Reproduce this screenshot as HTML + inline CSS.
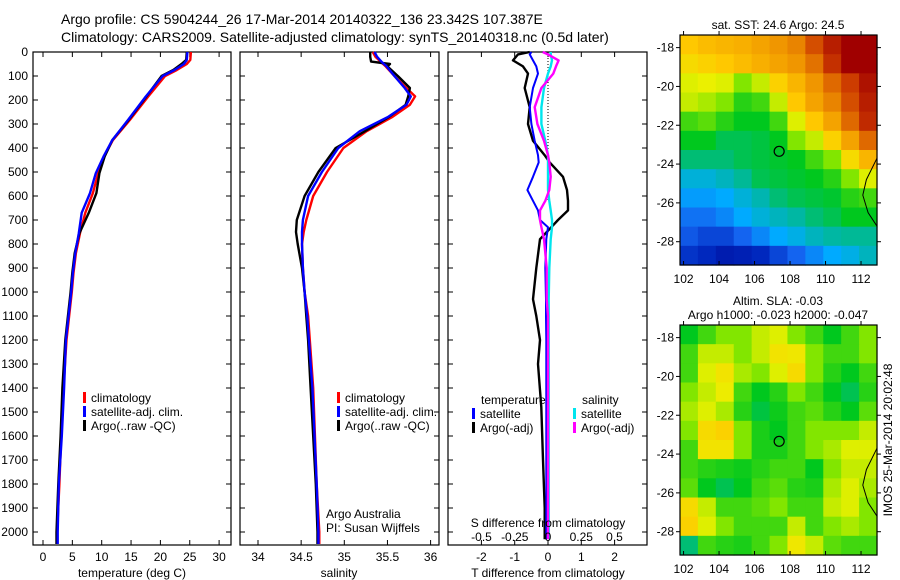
<!DOCTYPE html>
<html><head><meta charset="utf-8"><style>
html,body{margin:0;padding:0;background:#fff}
svg{display:block;font-family:"Liberation Sans",sans-serif}
text{font-size:12px;fill:#000}
</style></head><body>
<svg id="fig" width="900" height="580" viewBox="0 0 900 580">
<text x="61" y="24" style="font-size:14px">Argo profile: CS 5904244_26 17-Mar-2014 20140322_136 23.342S 107.387E</text>
<text x="61" y="42" style="font-size:14px">Climatology: CARS2009. Satellite-adjusted climatology: synTS_20140318.nc (0.5d later)</text>
<g id="g"></g>
</svg>
<script>
// ---------- data ----------
const depthTicks=[0,100,200,300,400,500,600,700,800,900,1000,1100,1200,1300,1400,1500,1600,1700,1800,1900,2000];
const tempTicks=[0,5,10,15,20,25,30];
const salTicks=[34,34.5,35,35.5,36];
const tdTicks=[-2,-1,0,1,2];
const sdTicks=[-0.5,-0.25,0,0.25,0.5];
const tdTickLabels=["-2","-1","0","1","2"];
const sdTickLabels=["-0.5","-0.25","0","0.25","0.5"];

const tClimDepth=[0,33,50,75,100,186,283,367,436,505,588,670,755,838,920,1000,1200,1400,1600,1800,2000,2050];
const tClim=[25.2,25.1,24.5,22.8,20.8,17.9,14.8,11.9,10.4,9.4,8.5,7.2,6.3,5.6,5.2,4.9,4.0,3.5,3.1,2.8,2.4,2.4];
const tSat=[24.6,24.5,24.0,22.4,20.4,17.5,14.5,11.8,10.3,9.0,8.0,6.6,6.1,5.5,5.1,4.8,3.9,3.6,3.2,2.7,2.5,2.5];
const tArgo=[24.5,24.4,23.6,22.2,20.2,17.6,14.6,11.8,10.5,9.6,9.1,7.8,6.2,5.4,5.0,4.7,3.8,3.3,3.0,2.6,2.3,2.3];

const sDepth=[0,20,40,50,60,100,150,185,220,270,330,400,500,600,700,750,800,900,1000,1100,1200,1400,1800,2000,2050];
const sClim=[35.33,35.36,35.42,35.45,35.48,35.58,35.72,35.82,35.76,35.56,35.26,34.99,34.80,34.64,34.56,34.53,34.51,34.52,34.54,34.58,34.60,34.64,34.68,34.71,34.71];
const sSat=[35.35,35.38,35.43,35.46,35.49,35.58,35.70,35.77,35.72,35.51,35.18,34.93,34.74,34.58,34.52,34.51,34.51,34.52,34.54,34.57,34.59,34.63,34.68,34.70,34.70];
const sArgo=[35.30,35.30,35.31,35.53,35.50,35.62,35.76,35.74,35.71,35.52,35.24,34.90,34.70,34.54,34.45,34.44,34.46,34.51,34.54,34.56,34.58,34.61,34.67,34.69,34.69];

const dDepth=[0,10,35,60,90,150,230,300,370,430,460,520,575,620,660,700,730,780,900,1030,1100,1200,1300,1480,1700,1900,2030];
const dTArgo=[-0.55,-0.9,-1.05,-0.75,-0.6,-0.7,-0.55,-0.6,-0.45,-0.1,0.05,0.45,0.57,0.6,0.6,0.3,0.1,-0.24,-0.35,-0.45,-0.35,-0.24,-0.3,-0.2,-0.15,-0.1,-0.1];
const dTSat=[-0.5,-0.55,-0.45,-0.35,-0.3,-0.45,-0.55,-0.5,-0.4,-0.3,-0.28,-0.45,-0.62,-0.45,-0.3,-0.24,0,-0.05,-0.08,-0.06,-0.06,-0.05,-0.05,-0.05,-0.05,-0.05,-0.05];
const dSSat=[0.02,0.02,0.03,0.02,0.0,-0.03,-0.05,-0.05,-0.02,0,0,0.0,0.0,0.01,0.02,0.03,0.03,0.02,0.01,0.005,0.005,0.005,0.005,0.005,0.005,0.005,0.005];
const dSArgo=[-0.04,0.0,0.08,0.06,0.04,-0.05,-0.1,-0.08,-0.03,0,0.01,0.02,0.01,-0.02,-0.06,-0.06,-0.05,-0.03,-0.01,-0.01,0,0,0,0,0,0,0];

const mapLonTicks=[102,104,106,108,110,112];
const mapLatTicks=[-18,-20,-22,-24,-26,-28];
const sstGrid=[
[0.72,0.74,0.75,0.76,0.78,0.80,0.82,0.88,0.95,1,1],
[0.68,0.70,0.72,0.74,0.76,0.78,0.80,0.84,0.92,1,1],
[0.62,0.63,0.62,0.55,0.60,0.70,0.75,0.80,0.85,0.90,0.97],
[0.60,0.58,0.55,0.48,0.50,0.60,0.72,0.78,0.82,0.88,0.95],
[0.50,0.52,0.48,0.45,0.45,0.50,0.62,0.72,0.78,0.85,0.93],
[0.45,0.45,0.42,0.42,0.43,0.45,0.55,0.60,0.70,0.78,0.85],
[0.40,0.40,0.40,0.42,0.43,0.44,0.45,0.50,0.55,0.68,0.75],
[0.33,0.33,0.35,0.38,0.42,0.43,0.44,0.45,0.48,0.55,0.62],
[0.28,0.28,0.30,0.33,0.36,0.40,0.42,0.43,0.44,0.48,0.50],
[0.22,0.22,0.25,0.30,0.33,0.35,0.37,0.40,0.42,0.45,0.45],
[0.18,0.15,0.15,0.20,0.25,0.30,0.32,0.35,0.37,0.38,0.38],
[0.12,0.10,0.07,0.08,0.10,0.15,0.20,0.25,0.30,0.32,0.35]];
const slaGrid=[
[0.45,0.50,0.55,0.55,0.60,0.62,0.55,0.50,0.45,0.50,0.55],
[0.50,0.60,0.60,0.55,0.60,0.66,0.65,0.55,0.50,0.50,0.55],
[0.50,0.62,0.66,0.58,0.55,0.62,0.68,0.55,0.48,0.45,0.50],
[0.55,0.60,0.64,0.50,0.45,0.48,0.55,0.50,0.45,0.42,0.48],
[0.58,0.62,0.58,0.48,0.43,0.46,0.50,0.52,0.48,0.45,0.52],
[0.55,0.68,0.70,0.55,0.47,0.45,0.50,0.55,0.55,0.55,0.60],
[0.50,0.66,0.66,0.55,0.47,0.47,0.50,0.55,0.58,0.62,0.62],
[0.50,0.48,0.47,0.46,0.48,0.50,0.50,0.45,0.55,0.60,0.60],
[0.52,0.45,0.42,0.45,0.50,0.52,0.48,0.47,0.58,0.62,0.58],
[0.68,0.60,0.50,0.50,0.52,0.55,0.50,0.50,0.60,0.62,0.55],
[0.70,0.62,0.55,0.50,0.50,0.50,0.60,0.50,0.55,0.58,0.55],
[0.40,0.50,0.48,0.47,0.50,0.55,0.65,0.60,0.52,0.50,0.50]];
const floatLon=107.387, floatLat=-23.342;
const coastLon=[112.9,112.3,112.1,112.4,112.9];
const coastLat=[-23.7,-24.8,-25.6,-26.5,-27.2];

// ---------- helpers ----------
const NS="http://www.w3.org/2000/svg";
const G=document.getElementById('g');
function el(tag,attrs,parent){const e=document.createElementNS(NS,tag);for(const k in attrs)e.setAttribute(k,attrs[k]);(parent||G).appendChild(e);return e;}
function txt(x,y,s,anchor,parent){const t=el('text',{x:x,y:y,'text-anchor':anchor||'start'},parent);t.textContent=s;return t;}
const Y0=52, PY=0.24, YB=545;
const yD=d=>Y0+d*PY;
const xT=v=>43+v*5.87;
const xS=v=>258+(v-34)*86.3;
const xTD=v=>548+v*33.3;
const xSD=v=>548+v*133;

function frame(x0,x1,name){
  const r=el('rect',{x:x0,y:Y0,width:x1-x0,height:YB-Y0,fill:'none',stroke:'#000','stroke-width':1.2});
  
  
}
function series(xs,ds,fx,color,name,w){
  const pts=xs.map((v,i)=>fx(v).toFixed(1)+','+yD(ds[i]).toFixed(1)).join(' ');
  const p=el('polyline',{points:pts,fill:'none',stroke:color,'stroke-width':w||2.4,'stroke-linejoin':'round'});
  
  
}
function xticks(x0,x1,ticks,labels,fx,ly,name){
  ticks.forEach((t,i)=>{const x=fx(t);
    el('line',{x1:x,y1:YB,x2:x,y2:YB-5,stroke:'#000'});
    el('line',{x1:x,y1:Y0,x2:x,y2:Y0+5,stroke:'#000'});
    const tl=txt(x,ly,labels[i],'middle');
    
    
  });
}
function yticks(x0,x1,lab){
  depthTicks.forEach(d=>{const y=yD(d);
    el('line',{x1:x0,y1:y,x2:x0+5,y2:y,stroke:'#000'});
    el('line',{x1:x1,y1:y,x2:x1-5,y2:y,stroke:'#000'});
    if(lab){const t=txt(28,y+4,String(d),'end');
      
      }
  });
}
function legendBar(x,y,color,label){
  el('rect',{x:x,y:y-10,width:3,height:11,fill:color});
  const t=txt(x+8,y,label);
  
  
}

// ---------- panel 1: temperature ----------
frame(33,231,'temperature-panel');
yticks(33,231,true);
xticks(33,231,tempTicks,tempTicks.map(String),xT,561,'temperature');
series(tClim,tClimDepth,xT,'#ff0000','temp-climatology-line');
series(tArgo,tClimDepth,xT,'#000000','temp-argo-line');
series(tSat,tClimDepth,xT,'#0000ff','temp-satellite-line');
let t=txt(132,577,'temperature (deg C)','middle');


legendBar(83,402,'#ff0000','climatology');
legendBar(83,416,'#0000ff','satellite-adj. clim.');
legendBar(83,430,'#000000','Argo(..raw -QC)');

// ---------- panel 2: salinity ----------
frame(240,439,'salinity-panel');
yticks(240,439,false);
xticks(240,439,salTicks,salTicks.map(String),xS,561,'salinity');
series(sClim,sDepth,xS,'#ff0000','sal-climatology-line');
series(sArgo,sDepth,xS,'#000000','sal-argo-line');
series(sSat,sDepth,xS,'#0000ff','sal-satellite-line');
t=txt(339,577,'salinity','middle');


legendBar(337,402,'#ff0000','climatology');
legendBar(337,416,'#0000ff','satellite-adj. clim.');
legendBar(337,430,'#000000','Argo(..raw -QC)');
t=txt(326,518,'Argo Australia');


t=txt(326,532,'PI: Susan Wijffels');



// ---------- panel 3: differences ----------
frame(448,647,'difference-panel');
yticks(448,647,false);
xticks(448,647,tdTicks,tdTickLabels,xTD,561,'t-difference');
el('line',{x1:548,y1:Y0,x2:548,y2:200,stroke:'#000','stroke-dasharray':'1,2'});
series(dTArgo,dDepth,xTD,'#000000','tdiff-argo-line');
series(dTSat,dDepth,xTD,'#0000ff','tdiff-satellite-line',2);
series(dSSat,dDepth,xSD,'#00e5ee','sdiff-satellite-line',2.4);
series(dSArgo,dDepth,xSD,'#ff00ff','sdiff-argo-line',2.4);
sdTicks.forEach((v,i)=>{const l=txt(xSD(v),541,sdTickLabels[i],'middle');
  
  });
t=txt(548,527,'S difference from climatology','middle');


t=txt(548,577,'T difference from climatology','middle');


t=txt(481,404,'temperature');


t=txt(582,404,'salinity');


legendBar(472,418,'#0000ff','satellite');
legendBar(472,432,'#000000','Argo(-adj)');
legendBar(573,418,'#00e5ee','satellite');
legendBar(573,432,'#ff00ff','Argo(-adj)');

// ---------- maps ----------
const cmStops=[[0,[0,0,140]],[0.1,[0,40,190]],[0.2,[20,100,240]],[0.3,[0,170,255]],[0.38,[0,185,150]],[0.45,[0,200,30]],[0.55,[130,230,0]],[0.63,[235,240,0]],[0.72,[255,200,0]],[0.8,[240,150,0]],[0.9,[205,60,0]],[1,[160,0,0]]];
function cmap(v){v=Math.max(0,Math.min(1,v));
  for(let i=1;i<cmStops.length;i++){if(v<=cmStops[i][0]){const a=cmStops[i-1],b=cmStops[i];const f=(v-a[0])/(b[0]-a[0]);
    return 'rgb('+a[1].map((c,k)=>Math.round(c+(b[1][k]-c)*f)).join(',')+')';}}
  return 'rgb(160,0,0)';}
function drawMap(top,grid,name,title1,title2){
  const X0=680,X1=877,Y1=top,Y2=top+230;
  const lonMin=101.8,lonMax=112.9,latTop=-17.35,latBot=-29.2;
  const fx=lon=>X0+(lon-lonMin)/(lonMax-lonMin)*(X1-X0);
  const fy=lat=>Y1+(latTop-lat)/(latTop-latBot)*(Y2-Y1);
  const g=el('g',{});
  
  
  const rows=grid.length, cols=grid[0].length;
  const cw=(X1-X0)/cols, ch=(Y2-Y1)/rows;
  grid.forEach((row,i)=>row.forEach((v,j)=>{
    const c=el('rect',{x:(X0+j*cw).toFixed(2),y:(Y1+i*ch).toFixed(2),width:(cw+0.6).toFixed(2),height:(ch+0.6).toFixed(2),fill:cmap(v)},g);
    
    
  }));
  const cp=coastLon.map((lo,i)=>fx(lo).toFixed(1)+','+fy(coastLat[i]).toFixed(1)).join(' ');
  const cl=el('polyline',{points:cp,fill:'none',stroke:'#000','stroke-width':1},g);
  
  
  el('rect',{x:X0,y:Y1,width:X1-X0,height:Y2-Y1,fill:'none',stroke:'#000','stroke-width':1.2},g);
  mapLonTicks.forEach(lo=>{const x=fx(lo);
    el('line',{x1:x,y1:Y2,x2:x,y2:Y2-4,stroke:'#000'},g);
    el('line',{x1:x,y1:Y1,x2:x,y2:Y1-4,stroke:'#000'},g);
    const l=txt(x,Y2+18,String(lo),'middle',g);
    
    });
  mapLatTicks.forEach(la=>{const y=fy(la);
    el('line',{x1:X0,y1:y,x2:X0-4,y2:y,stroke:'#000'},g);
    el('line',{x1:X1,y1:y,x2:X1+4,y2:y,stroke:'#000'},g);
    const l=txt(674,y+4,String(la),'end',g);
    
    });
  const m=el('circle',{cx:fx(floatLon),cy:fy(floatLat),r:5,fill:'none',stroke:'#000','stroke-width':1.2},g);
  
  
  if(title1){const a=txt(778,top-(title2?20:6),title1,'middle',g);
    
    }
  if(title2){const a=txt(778,top-6,title2,'middle',g);
    
    }
}
drawMap(35,sstGrid,'sst-map','sat. SST: 24.6 Argo: 24.5',null);
drawMap(325,slaGrid,'sla-map','Altim. SLA: -0.03','Argo h1000: -0.023 h2000: -0.047');
t=txt(0,0,'IMOS 25-Mar-2014 20:02:48','middle');
t.setAttribute('transform','translate(892,440) rotate(-90)');


</script>
</body></html>
